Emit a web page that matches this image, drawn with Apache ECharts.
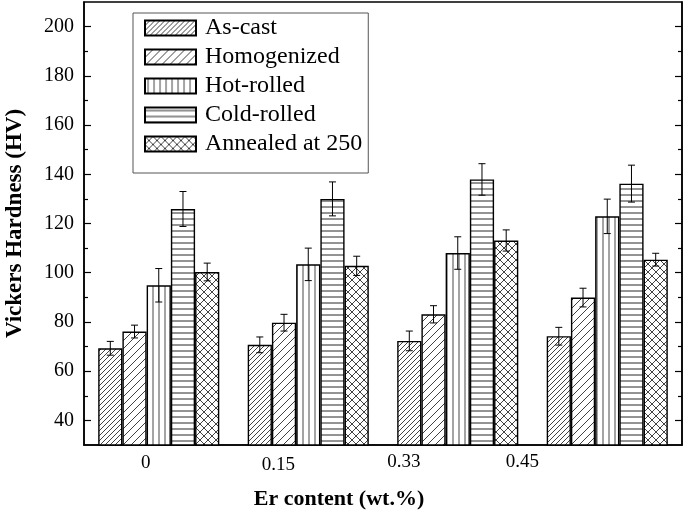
<!DOCTYPE html>
<html><head><meta charset="utf-8">
<script src="https://cdn.jsdelivr.net/npm/echarts@6/dist/echarts.min.js"></script>
<style>html,body{margin:0;padding:0;background:#fff}#c{width:685px;height:516px}</style>
</head><body><div id="c"></div>
<script>
const categories = ['0', '0.15', '0.33', '0.45'];
const seriesNames = ['As-cast', 'Homogenized', 'Hot-rolled', 'Cold-rolled', 'Annealed at 250'];
const asCast = [69.3, 70.7, 72.3, 74.2];
const asCastErr = [2.8, 3.2, 4.0, 3.6];
const homogenized = [76.1, 79.7, 83.1, 89.9];
const homogenizedErr = [2.6, 3.4, 3.5, 3.8];
const hotRolled = [94.9, 103.4, 108.0, 122.9];
const hotRolledErr = [6.8, 6.6, 6.6, 7.0];
const coldRolled = [125.9, 130.0, 137.9, 136.2];
const coldRolledErr = [7.1, 6.9, 6.4, 7.5];
const annealed = [100.3, 102.8, 113.1, 105.3];
const annealedErr = [3.6, 3.9, 4.3, 2.6];
const yMajorTicks = [40, 60, 80, 100, 120, 140, 160, 180, 200];
const yMinorTicks = [50, 70, 90, 110, 130, 150, 170, 190];

const FONT = '"Liberation Serif", "DejaVu Serif", serif';
const CAT_GAP = 0.19;

function makePattern(type, p, lw, col) {
  const c = document.createElement('canvas');
  c.width = p; c.height = p;
  const g = c.getContext('2d');
  g.fillStyle = '#fff'; g.fillRect(0, 0, p, p);
  g.strokeStyle = col || '#000'; g.lineWidth = lw;
  g.beginPath();
  if (type === 'fwd' || type === 'cross') {
    g.moveTo(-1, p + 1); g.lineTo(p + 1, -1);
    g.moveTo(-1, 1); g.lineTo(1, -1);
    g.moveTo(p - 1, p + 1); g.lineTo(p + 1, p - 1);
  }
  if (type === 'cross') {
    g.moveTo(-1, -1); g.lineTo(p + 1, p + 1);
    g.moveTo(p - 1, -1); g.lineTo(p + 1, 1);
    g.moveTo(-1, p - 1); g.lineTo(1, p + 1);
  }
  if (type === 'vert') { g.moveTo(p / 2, 0); g.lineTo(p / 2, p); }
  if (type === 'horiz') { g.moveTo(0, p / 2); g.lineTo(p, p / 2); }
  g.stroke();
  return { image: c, repeat: 'repeat' };
}

const values = [asCast, homogenized, hotRolled, coldRolled, annealed];
const errors = [asCastErr, homogenizedErr, hotRolledErr, coldRolledErr, annealedErr];
const patterns = [
  makePattern('fwd', 5, 0.8, '#111'),
  makePattern('fwd', 8, 0.8, '#111'),
  makePattern('vert', 6, 0.9, '#333'),
  makePattern('horiz', 6, 0.9, '#111'),
  makePattern('cross', 8, 0.8, '#111')
];

const series = [];
seriesNames.forEach((name, k) => {
  series.push({
    type: 'bar', name: name, data: values[k],
    xAxisIndex: 0, yAxisIndex: 0,
    barGap: '0%', barCategoryGap: (CAT_GAP * 100) + '%',
    itemStyle: { color: patterns[k], borderColor: '#000', borderWidth: 1.4 },
    emphasis: { disabled: true }, silent: true
  });
});
seriesNames.forEach((name, k) => {
  series.push({
    type: 'custom', xAxisIndex: 0, yAxisIndex: 0, z: 5, silent: true,
    data: categories.map((c, i) => [i, values[k][i], errors[k][i]]),
    encode: { x: 0, y: 1 },
    renderItem: function (params, api) {
      const ci = api.value(0), v = api.value(1), e = api.value(2);
      const top = api.coord([ci, v + e]);
      const bot = api.coord([ci, v - e]);
      const bw = api.size([1, 0])[0] * (1 - CAT_GAP) / 5;
      const x = top[0] + (k - 2) * bw;
      const hw = 3.5;
      const st = { stroke: '#000', lineWidth: 1 };
      return { type: 'group', children: [
        { type: 'line', shape: { x1: x, y1: top[1], x2: x, y2: bot[1] }, style: st },
        { type: 'line', shape: { x1: x - hw, y1: top[1], x2: x + hw, y2: top[1] }, style: st },
        { type: 'line', shape: { x1: x - hw, y1: bot[1], x2: x + hw, y2: bot[1] }, style: st }
      ] };
    }
  });
});

const labelPads = [[1, 26, 0, 0], [3, 60, 0, 0], [0, 108, 0, 0], [0, 170, 0, 0]];
const rich = {};
labelPads.forEach((p, i) => { rich['l' + i] = { padding: p, fontFamily: FONT, fontSize: 19, color: '#000' }; });

const lineStyle = { color: '#000', width: 1.5 };
const option = {
  animation: false,
  backgroundColor: '#fff',
  grid: { left: 84, right: 3, top: 2, bottom: 71, containLabel: false, outerBoundsMode: 'none', show: true, borderColor: '#000', borderWidth: 1.5, backgroundColor: 'transparent' },
  legend: {
    data: seriesNames, orient: 'vertical', left: 133, top: 13,
    padding: [3, 6, 17, 11], itemWidth: 51, itemHeight: 15, itemGap: 5,
    icon: 'rect', borderColor: '#555', borderWidth: 1, backgroundColor: '#fff',
    textStyle: { fontFamily: FONT, fontSize: 24, color: '#000', padding: [0, 0, 0, 4] },
    selectedMode: false
  },
  xAxis: [
    {
      type: 'category', data: categories, position: 'bottom',
      axisLine: { lineStyle: lineStyle },
      axisTick: { inside: true, alignWithLabel: true, length: 7, lineStyle: { color: '#000', width: 1.2 } },
      axisLabel: {
        interval: 0, margin: 8, color: '#000', fontFamily: FONT, fontSize: 19,
        formatter: function (v, i) { return '{l' + i + '|' + v + '}'; }, rich: rich
      },
      splitLine: { show: false },
      name: 'Er content (wt.%)', nameLocation: 'middle', nameGap: 43,
      nameTextStyle: { fontFamily: FONT, fontWeight: 'bold', fontSize: 22, color: '#000', padding: [0, 88, 0, 0] }
    },
    {
      type: 'category', data: categories, position: 'bottom',
      axisLine: { show: false },
      axisTick: { inside: true, length: 4, lineStyle: { color: '#000', width: 1.2 } },
      axisLabel: { show: false }, splitLine: { show: false }
    }
  ],
  yAxis: [
    {
      type: 'value', min: 30, max: 210, position: 'left',
      axisLine: { show: true, lineStyle: lineStyle },
      axisTick: { show: true, inside: true, length: 7, customValues: yMajorTicks, lineStyle: { color: '#000', width: 1.2 } },
      axisLabel: { customValues: yMajorTicks, margin: 10, color: '#000', fontFamily: FONT, fontSize: 20 },
      splitLine: { show: false },
      name: 'Vickers Hardness (HV)', nameLocation: 'middle', nameGap: 57,
      nameTextStyle: { fontFamily: FONT, fontWeight: 'bold', fontSize: 23, color: '#000' }
    },
    {
      type: 'value', min: 30, max: 210, position: 'left',
      axisLine: { show: false },
      axisTick: { show: true, inside: true, length: 4, customValues: yMinorTicks, lineStyle: { color: '#000', width: 1.2 } },
      axisLabel: { show: false }, splitLine: { show: false }
    },
    {
      type: 'value', min: 30, max: 210, position: 'right',
      axisLine: { show: true, lineStyle: lineStyle },
      axisTick: { show: true, inside: true, length: 7, customValues: yMajorTicks, lineStyle: { color: '#000', width: 1.2 } },
      axisLabel: { show: false }, splitLine: { show: false }
    },
    {
      type: 'value', min: 30, max: 210, position: 'right',
      axisLine: { show: false },
      axisTick: { show: true, inside: true, length: 4, customValues: yMinorTicks, lineStyle: { color: '#000', width: 1.2 } },
      axisLabel: { show: false }, splitLine: { show: false }
    }
  ],
  series: series
};
const chart = echarts.init(document.getElementById('c'), null, { renderer: 'canvas' });
chart.setOption(option);
</script>
</body></html>
